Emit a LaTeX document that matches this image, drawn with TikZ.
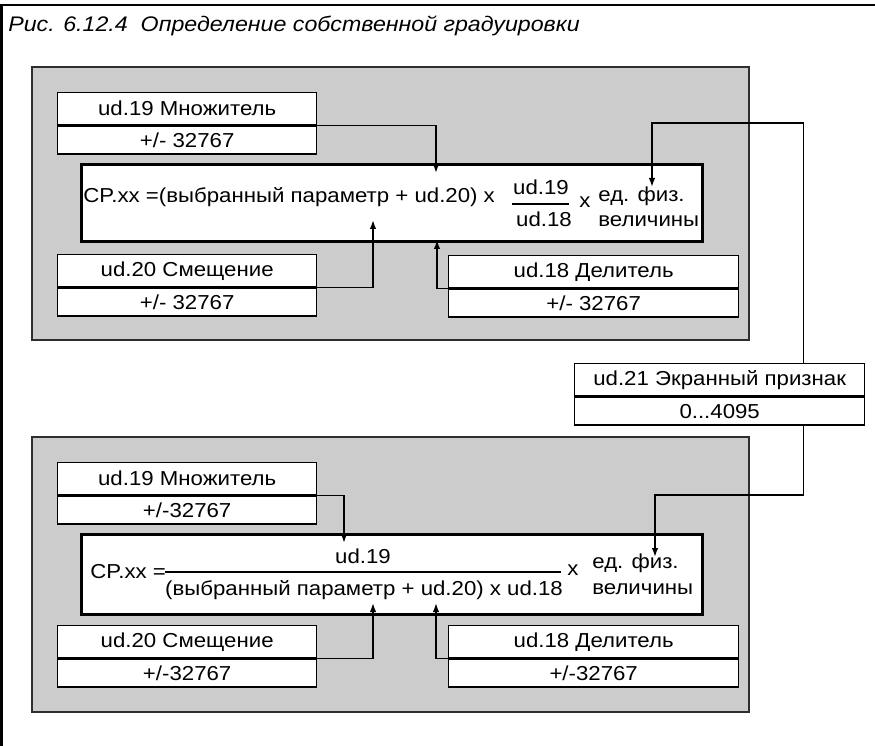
\documentclass[tikz,border=0pt]{standalone}
\usepackage{fontspec}
\setmainfont[FakeStretch=1.10]{Liberation Sans}
\usepackage{tikz}
\usetikzlibrary{arrows.meta,positioning}
\definecolor{panelgray}{HTML}{CCCCCC}
\definecolor{edgegray}{HTML}{2E2E2E}

\tikzset{
  panel/.style={draw=edgegray,fill=panelgray,line width=0.9pt},
  parname/.style={draw,fill=white,line width=0.8pt,inner sep=0pt,
                  minimum width=#1,minimum height=0.64cm,anchor=north west},
  parname/.default=5.18cm,
  parvalue/.style={draw,fill=white,line width=0.8pt,inner sep=0pt,
                   minimum width=#1,minimum height=0.56cm},
  parvalue/.default=5.18cm,
  formbox/.style={draw,fill=white,line width=1.7pt,inner sep=0pt,
                  minimum width=12.42cm,anchor=north west},
  ftext/.style={inner sep=0pt,anchor=base west},
  fnum/.style={inner sep=0pt,anchor=base},
  fracbar/.style={line width=1.1pt},
  conn/.style={-{Latex[length=0.18cm,width=0.13cm]},line width=0.85pt}
}

\begin{document}
\begin{tikzpicture}[x=0.02cm,y=-0.02cm,font=\fontsize{11.5}{13.5}\selectfont]
  \useasboundingbox (0,0) rectangle (875,746);
  % outer frame and title
  \draw[line width=1.4pt] (1.3,746) -- (1.3,5) -- (875,5);
  \node[ftext,font=\fontsize{12}{14}\selectfont\itshape] (title) at (8,32)
       {Рис. 6.12.4\ \ Определение собственной градуировки};

  % gray panels
  \draw[panel] (32,67) rectangle (749,340);
  \draw[panel] (32,437) rectangle (749,712);

  % upper panel
  \node[parname] (mulA) at (57,92) {ud.19 Множитель};
  \node[parvalue,below=0pt of mulA] (mulAv) {+/- 32767};
  \node[formbox,minimum height=1.54cm] (formA) at (80,163) {};
  \node[parname] (offA) at (57,254) {ud.20 Смещение};
  \node[parvalue,below=0pt of offA] (offAv) {+/- 32767};
  \node[parname=5.8cm] (divA) at (448,255) {ud.18 Делитель};
  \node[parvalue=5.8cm,below=0pt of divA] (divAv) {+/- 32767};

  \node[ftext] (exprA) at (83,203) {CP.xx =(выбранный параметр + ud.20) x};
  \node[fnum] (numA) at (541,195) {ud.19};
  \node[fnum] (denA) at (544,227) {ud.18};
  \draw[fracbar] (512,204) -- (569,204);
  \node[ftext] (mulxA) at (579,208) {x};
  \node[ftext] (unitA) at (598,202) {ед. физ.};
  \node[ftext] (unitAb) at (598,227) {величины};

  % screen flag
  \node[parname=5.8cm] (scr) at (574,363) {ud.21 Экранный признак};
  \node[parvalue=5.8cm,below=0pt of scr] (scrv) {0...4095};

  % lower panel
  \node[parname] (mulB) at (57,462) {ud.19 Множитель};
  \node[parvalue,below=0pt of mulB] (mulBv) {+/-32767};
  \node[formbox,minimum height=1.6cm] (formB) at (80,533) {};
  \node[parname] (offB) at (57,625) {ud.20 Смещение};
  \node[parvalue,below=0pt of offB] (offBv) {+/-32767};
  \node[parname=5.8cm] (divB) at (448,625) {ud.18\ Делитель};
  \node[parvalue=5.8cm,below=0pt of divB] (divBv) {+/-32767};

  \node[ftext] (exprB) at (90,578) {CP.xx =};
  \node[fnum] (numB) at (363,563) {ud.19};
  \draw[fracbar] (165,572) -- (561,572);
  \node[fnum] (denB) at (364,595) {(выбранный параметр + ud.20) x ud.18};
  \node[ftext] (mulxB) at (567,575) {x};
  \node[ftext] (unitB) at (592,568) {ед. физ.};
  \node[ftext] (unitBb) at (592,594) {величины};

  % arrow ends
  \coordinate (tA19) at (436,173);
  \coordinate (tA20) at (373,220);
  \coordinate (tA18) at (437,240);
  \coordinate (tA21) at (652,187);
  \coordinate (tB19) at (344,543);
  \coordinate (tB20) at (373,603);
  \coordinate (tB18) at (436,603);
  \coordinate (tB21) at (655,557);

  % connectors
  \draw[conn] (mulA.south east) -| (tA19);
  \draw[conn] (offA.south east) -| (tA20);
  \draw[conn] (divA.south west) -| (tA18);
  \draw[conn] ([xshift=1.68cm]scr.north) -- ++(0,-240) -| (tA21);
  \draw[conn] (mulB.south east) -| (tB19);
  \draw[conn] (offB.south east) -| (tB20);
  \draw[conn] (divB.south west) -| (tB18);
  \draw[conn] ([xshift=1.68cm]scrv.south) -- ++(0,69) -| (tB21);
\end{tikzpicture}
\end{document}
